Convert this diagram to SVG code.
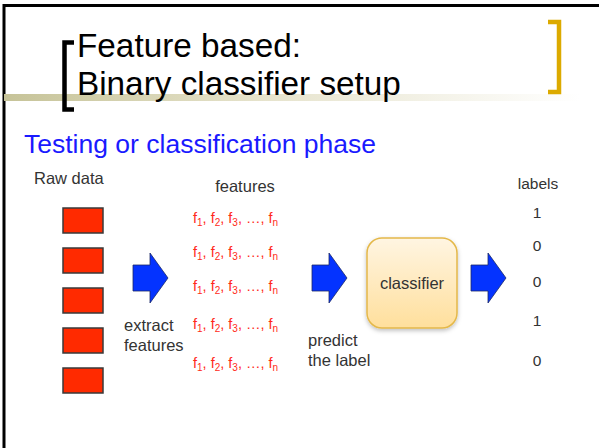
<svg xmlns="http://www.w3.org/2000/svg" width="599" height="448" viewBox="0 0 599 448">
  <style>
    text { font-family: "Liberation Sans", Arial, sans-serif; }
    .title { font-size: 33.3px; fill: #000; }
    .phase { font-size: 26.5px; fill: #1a1aff; }
    .lbl { font-size: 16.5px; fill: #333; }
    .feat { font-size: 14.5px; fill: #ff2a1a; }
    .num { font-size: 15.5px; fill: #333; text-anchor: middle; }
    .raw { fill: #ff2a00; stroke: #3a3a3a; stroke-width: 1.5; }
    .arrow { fill: #0433ff; stroke: #1c2a66; stroke-width: 0.8; }
  </style>
  <defs>
    <linearGradient id="rule" x1="0" y1="0" x2="1" y2="0">
      <stop offset="0" stop-color="#c6c398"/>
      <stop offset="0.45" stop-color="#e6e3cc"/>
      <stop offset="1" stop-color="#ffffff"/>
    </linearGradient>
    <linearGradient id="boxfill" x1="0" y1="0" x2="0" y2="1">
      <stop offset="0" stop-color="#fff5e2"/>
      <stop offset="1" stop-color="#ffdf9c"/>
    </linearGradient>
    <filter id="shadow" x="-20%" y="-20%" width="140%" height="140%">
      <feDropShadow dx="0" dy="2" stdDeviation="2" flood-color="#000" flood-opacity="0.25"/>
    </filter>
    <path id="bigArrow" d="M0,12 H17 V0 L35,25 L17,50 V38 H0 Z"/>
  </defs>

  <!-- slide frame -->
  <g id="frame">
    <path d="M4,448 V5.5 H599" fill="none" stroke="#000" stroke-width="3"/>
  </g>

  <!-- title block -->
  <g id="title">
    <rect x="4" y="94" width="576" height="7" fill="url(#rule)"/>
    <path d="M74,42.5 H64.5 V109.5 H74" fill="none" stroke="#000" stroke-width="4.5"/>
    <path d="M548,22 H559 V92 H548" fill="none" stroke="#dcaa00" stroke-width="4.5"/>
    <text class="title" x="77" y="57">Feature based:</text>
    <text class="title" x="77" y="95">Binary classifier setup</text>
  </g>

  <g id="phase">
    <text class="phase" x="24" y="153">Testing or classification phase</text>
  </g>

  <!-- raw data column -->
  <g id="raw-data">
    <text class="lbl" x="34" y="184" font-size="16">Raw data</text>
    <rect class="raw" x="63" y="208" width="40" height="25"/>
    <rect class="raw" x="63" y="248" width="40" height="25"/>
    <rect class="raw" x="63" y="288" width="40" height="25"/>
    <rect class="raw" x="63" y="328" width="40" height="25"/>
    <rect class="raw" x="63" y="368" width="40" height="25"/>
  </g>

  <!-- feature vectors -->
  <g id="features">
    <text class="lbl" x="245" y="192" text-anchor="middle" font-size="15.5">features</text>
    <text class="feat" x="193" y="223">f<tspan font-size="10" dy="3">1</tspan><tspan dy="-3">, f</tspan><tspan font-size="10" dy="3">2</tspan><tspan dy="-3">, f</tspan><tspan font-size="10" dy="3">3</tspan><tspan dy="-3">, …, f</tspan><tspan font-size="10" dy="3">n</tspan></text>
    <text class="feat" x="193" y="257">f<tspan font-size="10" dy="3">1</tspan><tspan dy="-3">, f</tspan><tspan font-size="10" dy="3">2</tspan><tspan dy="-3">, f</tspan><tspan font-size="10" dy="3">3</tspan><tspan dy="-3">, …, f</tspan><tspan font-size="10" dy="3">n</tspan></text>
    <text class="feat" x="193" y="291">f<tspan font-size="10" dy="3">1</tspan><tspan dy="-3">, f</tspan><tspan font-size="10" dy="3">2</tspan><tspan dy="-3">, f</tspan><tspan font-size="10" dy="3">3</tspan><tspan dy="-3">, …, f</tspan><tspan font-size="10" dy="3">n</tspan></text>
    <text class="feat" x="193" y="329">f<tspan font-size="10" dy="3">1</tspan><tspan dy="-3">, f</tspan><tspan font-size="10" dy="3">2</tspan><tspan dy="-3">, f</tspan><tspan font-size="10" dy="3">3</tspan><tspan dy="-3">, …, f</tspan><tspan font-size="10" dy="3">n</tspan></text>
    <text class="feat" x="193" y="368">f<tspan font-size="10" dy="3">1</tspan><tspan dy="-3">, f</tspan><tspan font-size="10" dy="3">2</tspan><tspan dy="-3">, f</tspan><tspan font-size="10" dy="3">3</tspan><tspan dy="-3">, …, f</tspan><tspan font-size="10" dy="3">n</tspan></text>
  </g>

  <!-- classifier -->
  <g id="classifier">
    <rect x="367" y="238" width="90" height="90" rx="15" fill="url(#boxfill)" stroke="#e4b84a" stroke-width="1.5" filter="url(#shadow)"/>
    <text class="lbl" x="412" y="289" text-anchor="middle" font-size="17.5">classifier</text>
  </g>

  <!-- output labels -->
  <g id="labels">
    <text class="num" x="538" y="189" font-size="16">labels</text>
    <text class="num" x="537" y="218">1</text>
    <text class="num" x="537" y="251">0</text>
    <text class="num" x="537" y="287">0</text>
    <text class="num" x="537" y="326">1</text>
    <text class="num" x="537" y="366">0</text>
  </g>

  <!-- flow arrows and captions -->
  <g id="connectors">
    <use href="#bigArrow" class="arrow" x="133" y="253"/>
    <use href="#bigArrow" class="arrow" x="312" y="253"/>
    <use href="#bigArrow" class="arrow" x="471" y="253"/>
    <text class="lbl" x="124" y="331">extract</text>
    <text class="lbl" x="124" y="351">features</text>
    <text class="lbl" x="308" y="346">predict</text>
    <text class="lbl" x="308" y="366">the label</text>
  </g>
</svg>
